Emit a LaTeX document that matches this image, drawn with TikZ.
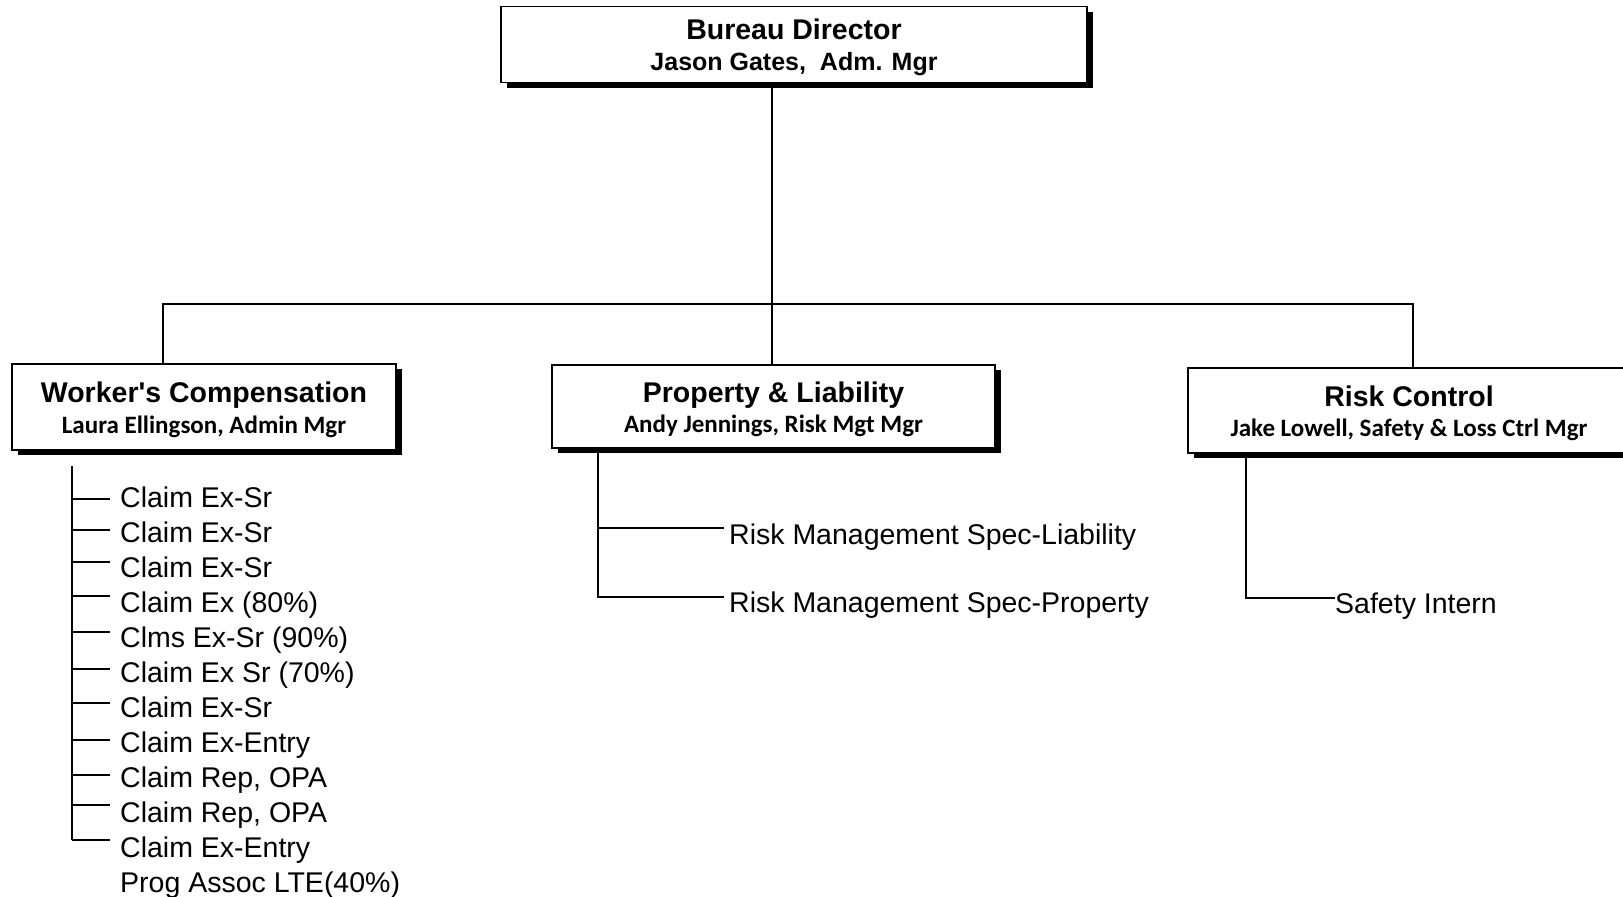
\documentclass[tikz,border=0pt]{standalone}
\usepackage{fontspec}
\newfontfamily\arial{Liberation Sans}
\newfontfamily\calib{Carlito}
\usetikzlibrary{shadows}

\begin{document}
\begin{tikzpicture}[x=1pt,y=-1pt,
  unitbox/.style={draw,line width=1.3pt,fill=white,align=center,inner sep=0pt,
    drop shadow={shadow xshift=6pt,shadow yshift=-5pt,fill=black,opacity=1},
    font=\fontsize{25}{30.5}\selectfont},
  jobtext/.style={anchor=base west,inner sep=0pt,font=\arial\fontsize{28.5}{34}\selectfont},
  orgline/.style={line width=1.4pt}]
\useasboundingbox (0,0) rectangle (1623,897);
\clip (0,0) rectangle (1623,897);
\coordinate (bus) at (772,304);
\coordinate (busL) at (163,304);
\coordinate (busR) at (1413,304);
\node[unitbox,minimum width=586pt,minimum height=76pt] (dir) at (794,44.5)
  {{\arial\bfseries\fontsize{28.5}{30.5}\selectfont\rule{0pt}{26pt}Bureau Director}\\{\arial\bfseries Jason Gates,\ \ Adm. Mgr}};
\node[unitbox,minimum width=384pt,minimum height=86pt] (wc) at (204,407)
  {{\arial\bfseries\fontsize{28.5}{30.5}\selectfont\rule{0pt}{26pt}Worker's Compensation}\\{\calib\bfseries Laura Ellingson, Admin Mgr}};
\node[unitbox,minimum width=443pt,minimum height=83pt] (pl) at (773.5,406.5)
  {{\arial\bfseries\fontsize{28.5}{30.5}\selectfont\rule{0pt}{26pt}Property \& Liability}\\{\calib\bfseries Andy Jennings, Risk Mgt Mgr}};
\node[unitbox,minimum width=442pt,minimum height=85pt] (rc) at (1409,410.5)
  {{\arial\bfseries\fontsize{28.5}{30.5}\selectfont\rule{0pt}{26pt}Risk Control}\\{\calib\bfseries Jake Lowell, Safety \& Loss Ctrl Mgr}};
\draw[orgline] (bus |- dir.south) -- (bus |- pl.north);
\draw[orgline] (busL |- wc.north) -- (busL) -- (busR) -- (busR |- rc.north);
% worker's compensation staff
\coordinate (wcspine) at (72,466);
\draw[orgline] (wcspine) -- (72,840);
\foreach \ty/\job [count=\i] in {499/Claim Ex-Sr,530/Claim Ex-Sr,562/Claim Ex-Sr,596/Claim Ex (80\%),
  632/Clms Ex-Sr (90\%),669/Claim Ex Sr (70\%),703/Claim Ex-Sr,740/Claim Ex-Entry,
  775/{Claim Rep, OPA},805/{Claim Rep, OPA},840/Claim Ex-Entry}{
  \draw[orgline] (72,\ty) -- (110,\ty);
  \node[jobtext] (wc\i) at (120,472+35*\i) {\job};
}
\node[jobtext] (wc12) at (120,892) {Prog Assoc LTE(40\%)};
% property and liability staff
\node[jobtext] (pl1) at (729,544) {Risk Management Spec-Liability};
\node[jobtext] (pl2) at (729,612) {Risk Management Spec-Property};
\draw[orgline] (pl.south -| 598,0) -- (598,597) -- (724,597);
\draw[orgline] (598,528) -- (724,528);
% risk control staff
\node[jobtext] (rc1) at (1335,613) {Safety Intern};
\draw[orgline] (rc.south -| 1246,0) -- (1246,598) -- (rc1.west |- 0,598);
\end{tikzpicture}
\end{document}
